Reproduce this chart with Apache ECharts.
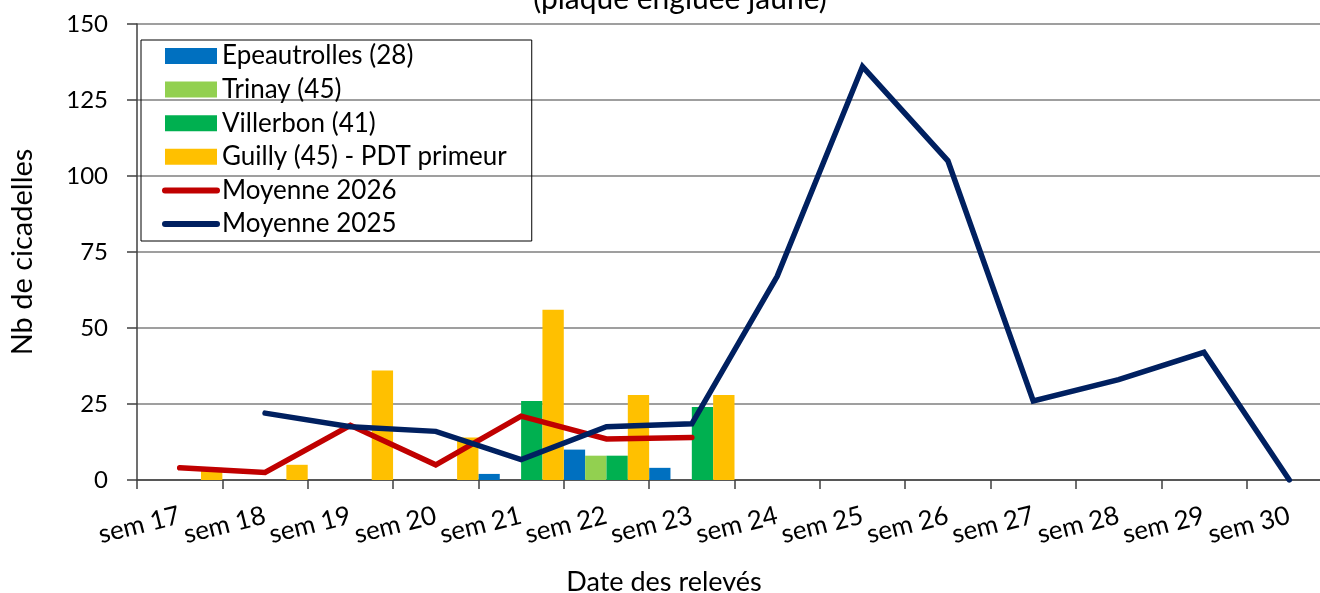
<!DOCTYPE html>
<html>
<head>
<meta charset="utf-8">
<script src="https://cdn.jsdelivr.net/npm/echarts@6/dist/echarts.min.js"></script>
<style>
html,body{margin:0;padding:0;background:#fff;overflow:hidden;}
#chart{width:1334px;height:593px;}
</style>
</head>
<body>
<div id="chart"></div>
<script>
const categories = ['sem 17','sem 18','sem 19','sem 20','sem 21','sem 22','sem 23','sem 24','sem 25','sem 26','sem 27','sem 28','sem 29','sem 30'];
const yTicks = [0, 25, 50, 75, 100, 125, 150];
const epeautrolles = [0, 0, 0, 0, 2, 10, 4, null, null, null, null, null, null, null];
const trinay       = [0, 0, 0, 0, 0, 8, 0, null, null, null, null, null, null, null];
const villerbon    = [0, 0, 0, 0, 26, 8, 24, null, null, null, null, null, null, null];
const guilly       = [4, 5, 36, 14, 56, 28, 28, null, null, null, null, null, null, null];
const moyenne2026  = [4, 2.5, 18, 5, 21, 13.5, 14, null, null, null, null, null, null, null];
const moyenne2025  = [null, 22, 17.5, 16, 6.7, 17.5, 18.5, 67, 136, 105, 26, 33, 42, 0];
const seriesNames = ['Epeautrolles (28)', 'Trinay (45)', 'Villerbon (41)', 'Guilly (45) - PDT primeur', 'Moyenne 2026', 'Moyenne 2025'];
const titleText = '(plaque engluée jaune)';
const xName = 'Date des relevés';
const yName = 'Nb de cicadelles';

const FONT = 'Lato, "Open Sans", sans-serif';
const colors = ['#0070C0', '#92D050', '#00B050', '#FFC000', '#C00000', '#002060'];

const chart = echarts.init(document.getElementById('chart'), null, {renderer: 'canvas'});

function bar(i, data) {
  return {
    name: seriesNames[i], type: 'bar', data: data,
    barGap: '0%', barCategoryGap: '0%',
    itemStyle: {color: colors[i]},
    z: 2
  };
}
function line(i, data) {
  return {
    name: seriesNames[i], type: 'line', data: data,
    symbol: 'circle', symbolSize: 0, showSymbol: false, connectNulls: false,
    lineStyle: {color: colors[i], width: 5.5, cap: 'round', join: 'miter'},
    itemStyle: {color: colors[i]},
    z: 3 + i
  };
}
function lineLegend(i) {
  return {
    name: seriesNames[i],
    itemStyle: {color: 'rgba(0,0,0,0)', borderWidth: 0, opacity: 0},
    lineStyle: {color: colors[i], width: 6, cap: 'round', opacity: 1}
  };
}

chart.setOption({
  animation: false,
  backgroundColor: '#fff',
  textStyle: {fontFamily: FONT, color: '#000'},
  grid: {left: 128, top: 24, width: 1204, height: 456, containLabel: false},
  legend: {
    orient: 'vertical', left: 141, top: 40,
    borderColor: '#000', borderWidth: 1,
    padding: [3, 25, 4, 21],
    itemGap: 7.6, itemWidth: 52, itemHeight: 16,
    textStyle: {fontFamily: FONT, fontSize: 26, color: '#000', lineHeight: 26},
    data: [
      {name: seriesNames[0], icon: 'rect'},
      {name: seriesNames[1], icon: 'rect'},
      {name: seriesNames[2], icon: 'rect'},
      {name: seriesNames[3], icon: 'rect'},
      lineLegend(4),
      lineLegend(5)
    ]
  },
  xAxis: {
    type: 'category', data: categories, boundaryGap: true,
    axisLine: {show: true, lineStyle: {color: '#404040', width: 1.5}},
    axisTick: {show: true, interval: 0, length: 9, lineStyle: {color: '#404040', width: 1.5}},
    axisLabel: {interval: 0, rotate: 14, margin: 35, fontFamily: FONT, fontSize: 26, color: '#000'},
    splitLine: {show: false}
  },
  yAxis: {
    type: 'value', min: yTicks[0], max: yTicks[yTicks.length - 1], interval: 25,
    name: yName, nameLocation: 'middle', nameGap: 100,
    nameTextStyle: {fontFamily: FONT, fontSize: 29, color: '#000'},
    axisLine: {show: true, lineStyle: {color: '#404040', width: 1.5}},
    axisTick: {show: true, length: 10, lineStyle: {color: '#404040', width: 1.5}},
    axisLabel: {margin: 29, fontFamily: FONT, fontSize: 24, color: '#000'},
    splitLine: {show: true, lineStyle: {color: '#7f7f7f', width: 1.5}}
  },
  graphic: [
    {type: 'text', x: 680, y: -1, z: 10, style: {text: titleText, fill: '#000', font: '30px ' + FONT, textAlign: 'center', textVerticalAlign: 'middle'}},
    {type: 'text', x: 664, y: 582, z: 10, style: {text: xName, fill: '#000', font: '27px ' + FONT, textAlign: 'center', textVerticalAlign: 'middle'}}
  ],
  series: [
    bar(0, epeautrolles),
    bar(1, trinay),
    bar(2, villerbon),
    bar(3, guilly),
    line(4, moyenne2026),
    line(5, moyenne2025)
  ]
});
</script>
</body>
</html>
